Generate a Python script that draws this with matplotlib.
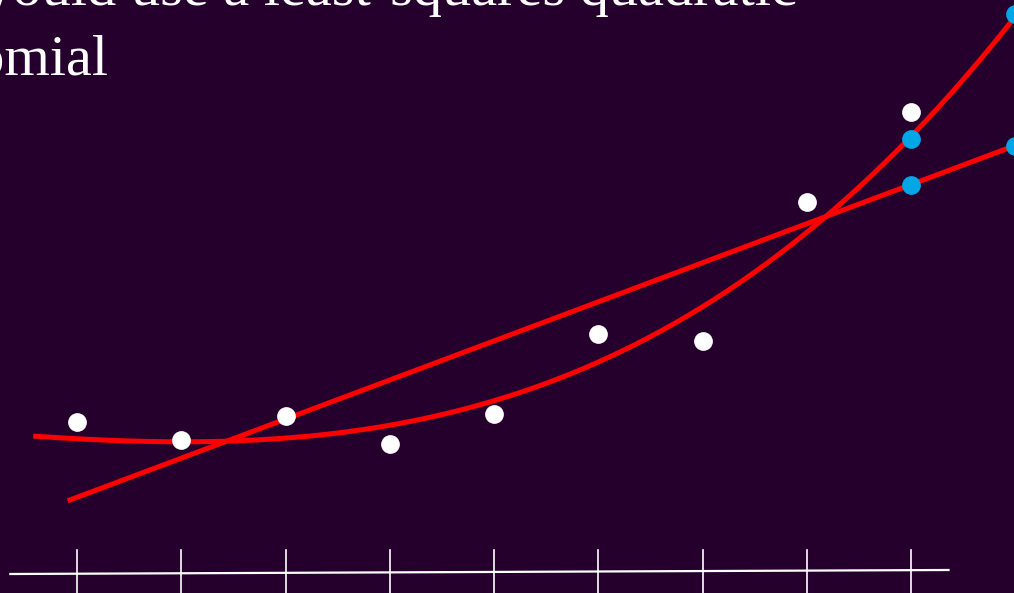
import matplotlib
matplotlib.use('Agg')
import matplotlib.pyplot as plt
import numpy as np

# observed data points (white)
data_x = [1, 2, 3, 4, 5, 6, 7, 8, 9]
data_y = [3.75, 3.30, 3.90, 3.20, 3.95, 5.95, 5.78, 9.25, 11.5]

# predicted points (blue) on the two fits
pred_x = [9, 9, 10, 10]
pred_y = [10.83, 9.68, 13.95, 10.65]

# least-squares straight line (end points)
lin_x = [0.91, 10.1]
lin_y = [1.78, 10.76]

# least-squares quadratic curve
quad_x = [0.58, 0.93, 1.41, 1.89, 2.37, 2.95, 3.43, 3.91, 4.48, 4.96,
          5.44, 5.92, 6.40, 6.98, 7.55, 8.24, 9.00, 10.01]
quad_y = [3.45, 3.35, 3.26, 3.22, 3.22, 3.31, 3.44, 3.63, 3.95, 4.28,
          4.70, 5.22, 5.80, 6.55, 7.52, 9.00, 10.83, 13.98]

# x axis
axis_x = [0.36, 9.36]
axis_y = [-0.05, 0.05]
tick_pos = [1, 2, 3, 4, 5, 6, 7, 8, 9]

bg = '#25002d'
red = '#ff0000'
blue = '#00a6e6'

fig = plt.figure(figsize=(10.14, 5.93), dpi=100, facecolor=bg)
ax = fig.add_axes([0, 0, 1, 1])
ax.set_facecolor(bg)
ax.set_xlim(0.261, 9.988)
ax.set_ylim(-0.525, 14.3)
ax.axis('off')

ax.plot(axis_x, axis_y, color='white', lw=1.6, zorder=1)
for t in tick_pos:
    ax.plot([t, t], [0.55, -1.0], color='white', lw=1.2, zorder=1)

ax.plot(lin_x, lin_y, color=red, lw=3.6, solid_capstyle='butt', zorder=2)

# smooth the traced curve with a low-order least-squares polynomial
coef = np.polyfit(quad_x, quad_y, 3)
xs = np.linspace(quad_x[0], quad_x[-1], 300)
ax.plot(xs, np.polyval(coef, xs), color=red, lw=3.6,
        solid_capstyle='butt', zorder=2)

ax.plot(data_x, data_y, 'o', color='white', ms=13.5, mec='none', zorder=3)
ax.plot(pred_x, pred_y, 'o', color=blue, ms=13.5, mec='none', zorder=3)

fig.text(797 / 1014, 1 - 5 / 593, 'If we would use a least-squares quadratic',
         ha='right', va='baseline', color='white', fontsize=42,
         family='Liberation Serif')
fig.text(108 / 1014, 1 - 75 / 593, 'polynomial',
         ha='right', va='baseline', color='white', fontsize=42,
         family='Liberation Serif')

fig.savefig('out.png', dpi=100, facecolor=bg)
